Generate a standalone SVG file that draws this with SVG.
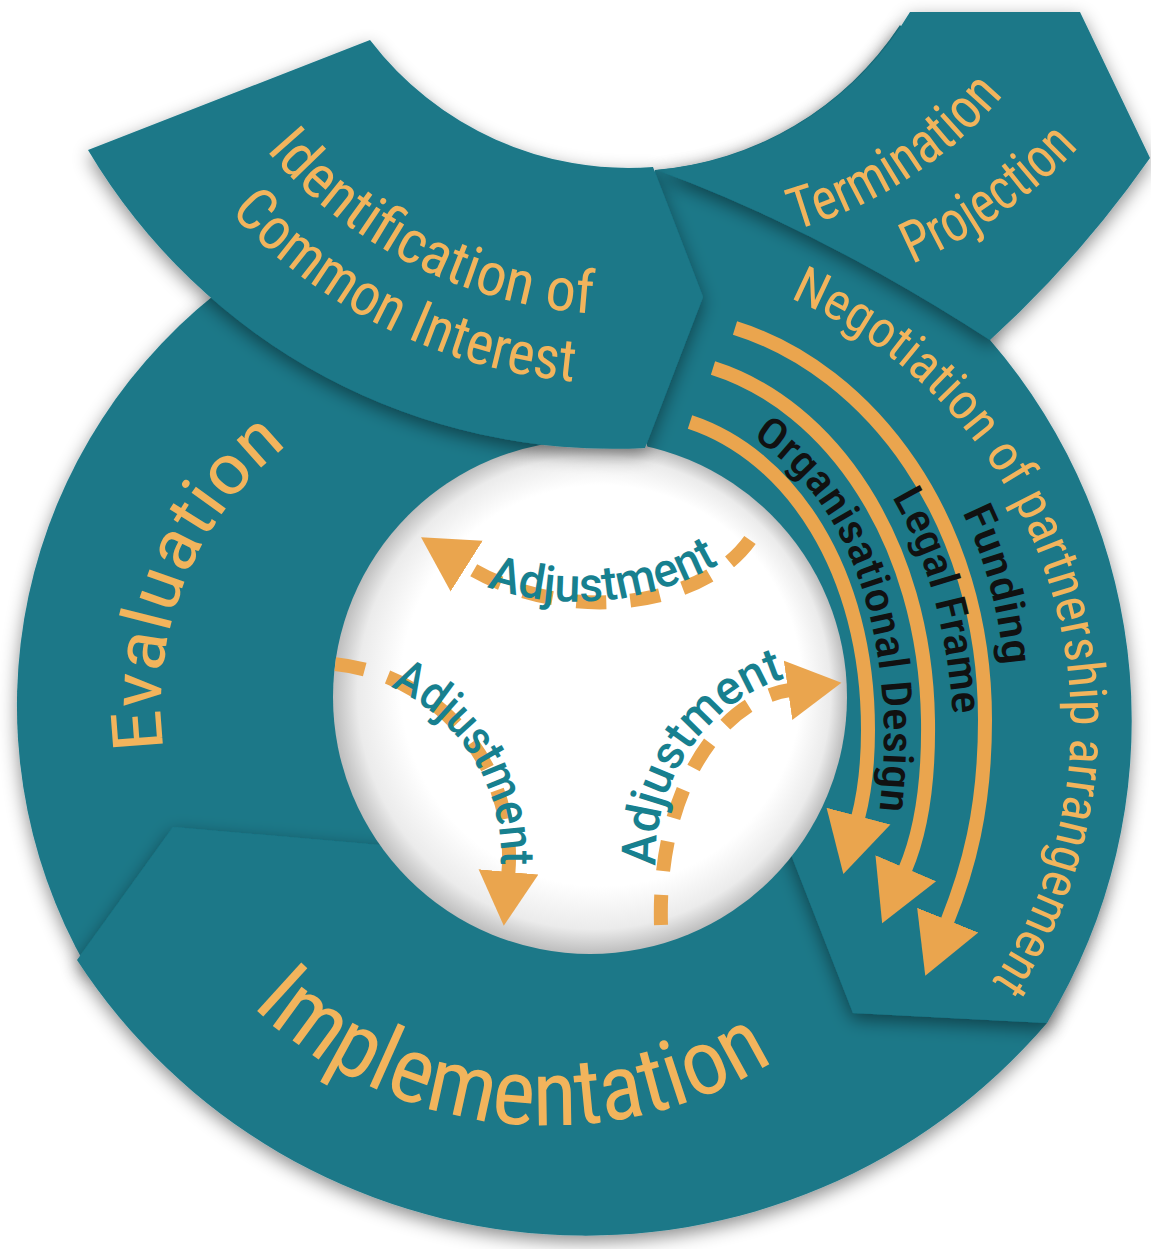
<svg xmlns="http://www.w3.org/2000/svg" width="1151" height="1249" viewBox="0 0 1151 1249">
<defs>
<style>
.seg{fill:#1b7888}
.lbl{fill:#f2b45c;font-family:'Liberation Sans Narrow',Roboto,'Liberation Sans',sans-serif;font-stretch:condensed}
.blk{fill:#111111;font-family:'Liberation Sans Narrow',Roboto,'Liberation Sans',sans-serif;font-stretch:condensed;font-weight:500;font-size:42px}
.adj{fill:#17808f;font-family:'Liberation Sans Narrow',Roboto,'Liberation Sans',sans-serif;font-weight:500;font-size:48px}
.arc{fill:none;stroke:#eaa54e;stroke-width:14}
.dash{fill:none;stroke:#eaa54e;stroke-width:14;stroke-dasharray:30 24}
</style>
<filter id="sh" x="-20%" y="-20%" width="140%" height="140%">
<feDropShadow dx="0" dy="6" stdDeviation="9" flood-color="#000" flood-opacity="0.45"/>
</filter>
<radialGradient id="holeg" cx="0.5" cy="0.5" r="0.5" fx="0.6" fy="0.4">
<stop offset="0" stop-color="#ffffff"/>
<stop offset="0.78" stop-color="#ffffff"/>
<stop offset="0.92" stop-color="#ebebeb"/>
<stop offset="1" stop-color="#bdbdbd"/>
</radialGradient>
<marker id="ah" markerUnits="userSpaceOnUse" markerWidth="64" markerHeight="70" viewBox="0 -35 64 70" refX="2" refY="0" orient="auto">
<path d="M0,-33 L60,0 L0,33 Z" fill="#eaa54e"/>
</marker>
<marker id="ahs" markerUnits="userSpaceOnUse" markerWidth="58" markerHeight="64" viewBox="0 -32 58 64" refX="2" refY="0" orient="auto">
<path d="M0,-30 L54,0 L0,30 Z" fill="#eaa54e"/>
</marker>
<path id="p-ident1" d="M 266,150 A 469 469 0 0 0 600,314"/>
<path id="p-ident2" d="M 230,212 A 537 537 0 0 0 578,382"/>
<path id="p-term1" d="M 795,230 A 430 430 0 0 0 1005,93"/>
<path id="p-term2" d="M 912,264 A 515 515 0 0 0 1078,148"/>
<path id="p-nego" d="M 790,298 A 463 463 0 0 1 985,992"/>
<path id="p-eval" d="M 164,750 A 330 330 0 0 1 294,440"/>
<path id="p-impl" d="M 252,1006 A 428 428 0 0 0 782,1056"/>
<path id="p-adj1" d="M 487,587 A 285 285 0 0 0 722,562"/>
<path id="p-adj2" d="M 390.7,687.1 A 186 186 0 0 1 500.9,863.5"/>
<path id="p-adj3" d="M 656,866 C 652,790 700,700 795,675"/>
<path id="p-fund" d="M 962,512 Q 998,585 1004,672"/>
<path id="p-legal" d="M 892,497 Q 947,590 954,732"/>
<path id="p-org" d="M 752,438 C 820,480 880,570 884,730 C 884,770 881,800 877,832"/>
</defs>
<rect width="1151" height="1249" fill="#ffffff"/>

<g id="evaluation" filter="url(#sh)">
<path class="seg" d="M 234,280 A 526 526 0 0 0 87,968 L 400,900 L 600,650 L 600,420 Z"/>
<text class="lbl" font-size="70"><textPath href="#p-eval" textLength="345" lengthAdjust="spacingAndGlyphs">Evaluation</textPath></text>
</g>

<g id="implementation" filter="url(#sh)">
<path class="seg" d="M 77,960 L 173,827 L 380,845 L 600,820 L 850,780 L 1100,880 L 1047,1023 A 607 607 0 0 1 77,960 Z"/>
<text class="lbl" font-size="92"><textPath href="#p-impl" textLength="565" lengthAdjust="spacingAndGlyphs">Implementation</textPath></text>
</g>

<g id="negotiation" filter="url(#sh)">
<path class="seg" d="M 645,200 L 655,170 A 325 325 0 0 0 900,25 L 1000,150 L 990,340 A 582 582 0 0 1 1047,1023 L 853,1013 L 790,852 L 690,600 L 640,420 Z"/>
<text class="lbl" font-size="52"><textPath href="#p-nego" textLength="815" lengthAdjust="spacingAndGlyphs">Negotiation of partnership arrangement</textPath></text>
</g>

<g id="hole">
<circle cx="590" cy="697" r="257" fill="url(#holeg)"/>
</g>

<g id="termination" filter="url(#sh)">
<path class="seg" d="M 910,12 L 1080,12 L 1150,158 Q 1080,258 990,340 Q 820,230 657,170 A 325 325 0 0 0 910,12 Z"/>
<text class="lbl" font-size="58"><textPath href="#p-term1" textLength="252" lengthAdjust="spacingAndGlyphs">Termination</textPath></text>
<text class="lbl" font-size="58"><textPath href="#p-term2" textLength="205" lengthAdjust="spacingAndGlyphs">Projection</textPath></text>
</g>

<g id="identification" filter="url(#sh)">
<path class="seg" d="M 88,150 L 370,40 A 325 325 0 0 0 653,167 L 703,297 L 645,448 A 610 610 0 0 1 88,150 Z"/>
<text class="lbl" font-size="60"><textPath href="#p-ident1" textLength="375" lengthAdjust="spacingAndGlyphs">Identification of</textPath></text>
<text class="lbl" font-size="60"><textPath href="#p-ident2" textLength="392" lengthAdjust="spacingAndGlyphs">Common Interest</textPath></text>
</g>

<g id="connectors">
<path class="arc" d="M 735,328 C 870,370 985,520 985,720 C 985,810 968,870 947,922" marker-end="url(#ah)"/>
<path class="arc" d="M 713,368 C 830,405 925,540 928,720 C 929,790 920,835 905,870" marker-end="url(#ah)"/>
<path class="arc" d="M 690,422 C 790,455 868,570 868,730 C 868,770 864,795 858,818" marker-end="url(#ah)"/>
<text class="blk"><textPath href="#p-fund" textLength="160" lengthAdjust="spacingAndGlyphs">Funding</textPath></text>
<text class="blk"><textPath href="#p-legal" textLength="228" lengthAdjust="spacingAndGlyphs">Legal Frame</textPath></text>
<text class="blk"><textPath href="#p-org" textLength="415" lengthAdjust="spacingAndGlyphs">Organisational Design</textPath></text>

<path class="dash" d="M 750,540 C 700,610 560,625 465,565" marker-end="url(#ahs)"/>
<path class="dash" d="M 335.3,664.1 A 194 194 0 0 1 508.3,873.9" marker-end="url(#ahs)"/>
<path class="dash" d="M 661,925 C 657,790 720,700 790,690" marker-end="url(#ahs)"/>
<text class="adj"><textPath href="#p-adj1" textLength="240" lengthAdjust="spacingAndGlyphs">Adjustment</textPath></text>
<text class="adj"><textPath href="#p-adj2" textLength="222" lengthAdjust="spacingAndGlyphs">Adjustment</textPath></text>
<text class="adj"><textPath href="#p-adj3" textLength="245" lengthAdjust="spacingAndGlyphs">Adjustment</textPath></text>
</g>
</svg>
